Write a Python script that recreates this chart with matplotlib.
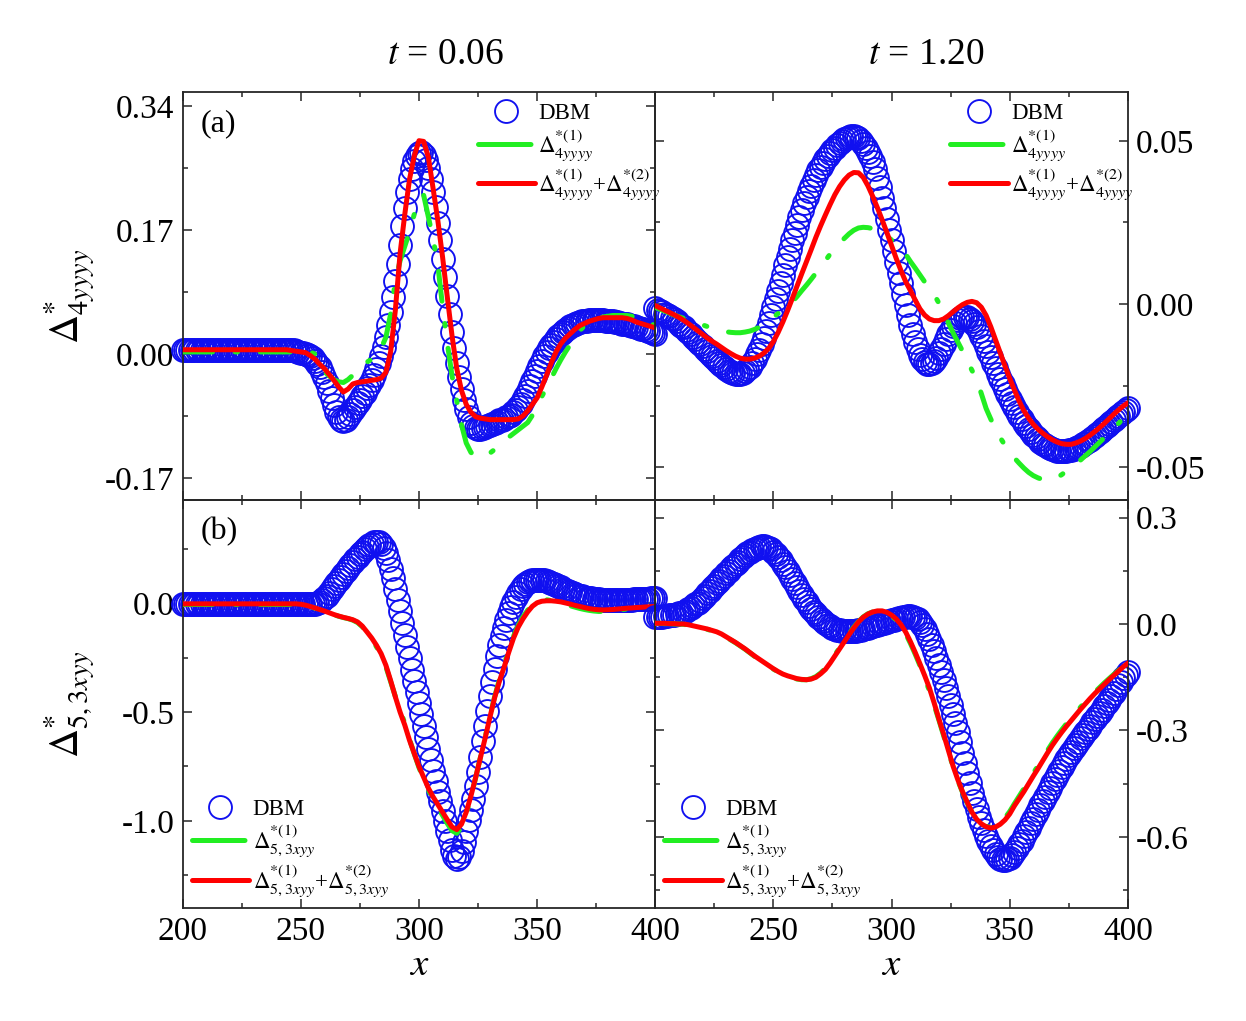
import numpy as np
import matplotlib
matplotlib.use('Agg')
from matplotlib import pyplot as plt
from matplotlib.lines import Line2D
from matplotlib.ticker import MultipleLocator, FormatStrFormatter

plt.rcParams['font.family'] = ['Liberation Serif', 'DejaVu Serif']
plt.rcParams['mathtext.fontset'] = 'stix'
plt.rcParams['axes.unicode_minus'] = False

x_dbm = np.arange(200, 401)       # DBM points, one per grid cell
x_line = np.arange(200, 401, 2)   # theory curves

# ---- top left: Delta*_4yyyy, t = 0.06
tl_dbm = [
    .006, .006, .006, .006, .006, .006, .006, .006, .006, .006,
    .006, .006, .006, .006, .006, .006, .006, .006, .006, .006,
    .006, .006, .006, .006, .006, .006, .006, .006, .006, .006,
    .006, .006, .006, .006, .006, .006, .006, .006, .006, .006,
    .006, .006, .006, .006, .006, .006, .005, .005, .004, .003,
    .002, .001, .000, -.001, -.003, -.006, -.009, -.013, -.018, -.025,
    -.032, -.040, -.050, -.060, -.070, -.080, -.087, -.091, -.092, -.090,
    -.086, -.082, -.077, -.072, -.067, -.063, -.058, -.053, -.047, -.042,
    -.036, -.029, -.021, -.012, -.002, .010, .024, .040, .058, .078,
    .100, .124, .150, .176, .200, .222, .240, .254, .265, .272,
    .276, .277, .274, .267, .256, .241, .223, .202, .180, .156,
    .131, .106, .080, .055, .031, .009, -.012, -.031, -.048, -.063,
    -.076, -.086, -.094, -.099, -.102, -.103, -.103, -.102, -.100, -.099,
    -.097, -.096, -.094, -.093, -.091, -.090, -.089, -.087, -.085, -.083,
    -.080, -.077, -.073, -.068, -.063, -.057, -.051, -.044, -.037, -.030,
    -.023, -.016, -.009, -.003, .003, .008, .013, .017, .021, .025,
    .028, .031, .033, .036, .038, .040, .041, .043, .044, .045,
    .046, .046, .047, .047, .047, .047, .047, .047, .047, .046,
    .046, .045, .045, .044, .044, .043, .042, .042, .041, .040,
    .039, .038, .037, .036, .035, .034, .033, .032, .031, .029,
    .028]
tl_first = [
    .003, .003, .003, .003, .003, .003, .003, .003, .003, .003,
    .003, .003, .003, .003, .003, .003, .003, .003, .003, .003,
    .003, .003, .003, .003, .003, .003, .003, .003, .000, -.012,
    -.024, -.030, -.035, -.038, -.039, -.035, -.029, -.021, -.015, -.011,
    -.007, -.002, .008, .023, .055, .100, .128, .148, .168, .192,
    .214, .218, .188, .158, .122, .065, .015, -.030, -.064, -.097,
    -.122, -.135, -.140, -.142, -.140, -.136, -.131, -.126, -.120, -.114,
    -.109, -.104, -.099, -.094, -.084, -.071, -.058, -.046, -.033, -.020,
    -.008, .003, .013, .023, .032, .039, .044, .047, .050, .051,
    .052, .053, .053, .053, .053, .052, .050, .048, .045, .042,
    .039]
tl_second = [
    .006, .006, .006, .006, .006, .006, .006, .006, .006, .006,
    .006, .006, .006, .006, .006, .006, .006, .006, .006, .006,
    .006, .006, .006, .005, .004, .003, .002, -.002, -.007, -.014,
    -.020, -.028, -.036, -.045, -.052, -.048, -.041, -.039, -.038, -.037,
    -.036, -.035, -.033, -.025, .003, .060, .138, .192, .240, .272,
    .293, .292, .270, .227, .183, .133, .078, .025, -.020, -.050,
    -.069, -.080, -.086, -.088, -.089, -.090, -.090, -.090, -.090, -.090,
    -.090, -.089, -.085, -.078, -.069, -.060, -.045, -.029, -.012, .003,
    .014, .022, .028, .034, .039, .042, .045, .047, .049, .050,
    .050, .050, .050, .050, .049, .047, .044, .042, .040, .038,
    .036]

# ---- top right: Delta*_4yyyy, t = 1.20
tr_dbm = [
    -.0013, -.0018, -.0022, -.0026, -.0030, -.0034, -.0038, -.0043, -.0047, -.0052,
    -.0060, -.0066, -.0072, -.0079, -.0086, -.0093, -.0100, -.0107, -.0115, -.0123,
    -.0130, -.0138, -.0145, -.0153, -.0160, -.0167, -.0174, -.0180, -.0187, -.0193,
    -.0199, -.0204, -.0208, -.0211, -.0214, -.0215, -.0214, -.0211, -.0206, -.0200,
    -.0193, -.0182, -.0169, -.0154, -.0140, -.0123, -.0104, -.0082, -.0058, -.0033,
    -.0008, .0016, .0040, .0064, .0090, .0118, .0145, .0170, .0195, .0219,
    .0242, .0266, .0288, .0309, .0328, .0346, .0363, .0380, .0395, .0410,
    .0421, .0432, .0443, .0453, .0463, .0471, .0479, .0487, .0494, .0500,
    .0505, .0509, .0512, .0514, .0515, .0513, .0508, .0500, .0490, .0479,
    .0466, .0454, .0436, .0413, .0386, .0357, .0326, .0294, .0261, .0228,
    .0195, .0162, .0129, .0096, .0063, .0030, -.0002, -.0034, -.0064, -.0092,
    -.0117, -.0138, -.0155, -.0168, -.0178, -.0183, -.0184, -.0181, -.0174, -.0164,
    -.0151, -.0137, -.0122, -.0106, -.0092, -.0079, -.0067, -.0057, -.0049, -.0044,
    -.0041, -.0040, -.0041, -.0046, -.0053, -.0062, -.0072, -.0084, -.0098, -.0113,
    -.0129, -.0146, -.0163, -.0180, -.0197, -.0214, -.0230, -.0246, -.0261, -.0276,
    -.0290, -.0304, -.0317, -.0330, -.0342, -.0353, -.0364, -.0374, -.0384, -.0393,
    -.0401, -.0408, -.0415, -.0422, -.0428, -.0433, -.0437, -.0441, -.0444, -.0447,
    -.0449, -.0450, -.0450, -.0450, -.0449, -.0448, -.0446, -.0444, -.0441, -.0438,
    -.0434, -.0430, -.0426, -.0421, -.0416, -.0410, -.0405, -.0399, -.0393, -.0387,
    -.0381, -.0375, -.0369, -.0363, -.0357, -.0350, -.0344, -.0338, -.0332, -.0326,
    -.0320]
tr_first = [
    -.0010, -.0016, -.0022, -.0028, -.0034, -.0039, -.0044, -.0049, -.0054, -.0059,
    -.0064, -.0069, -.0075, -.0079, -.0082, -.0085, -.0087, -.0088, -.0088, -.0086,
    -.0083, -.0078, -.0071, -.0060, -.0050, -.0040, -.0029, -.0018, -.0006, .0007,
    .0023, .0041, .0058, .0076, .0095, .0114, .0133, .0153, .0170, .0186,
    .0201, .0215, .0226, .0233, .0235, .0234, .0231, .0226, .0219, .0208,
    .0196, .0183, .0171, .0152, .0130, .0110, .0089, .0068, .0046, .0029,
    .0003, -.0026, -.0057, -.0088, -.0116, -.0144, -.0174, -.0203, -.0232, -.0275,
    -.0320, -.0353, -.0383, -.0410, -.0433, -.0453, -.0472, -.0488, -.0503, -.0516,
    -.0526, -.0533, -.0538, -.0540, -.0538, -.0532, -.0523, -.0512, -.0501, -.0490,
    -.0478, -.0465, -.0452, -.0438, -.0424, -.0410, -.0395, -.0380, -.0366, -.0352,
    -.0338]
tr_second = [
    -.0005, -.0012, -.0019, -.0026, -.0033, -.0041, -.0050, -.0060, -.0071, -.0082,
    -.0093, -.0104, -.0114, -.0123, -.0133, -.0143, -.0152, -.0160, -.0166, -.0169,
    -.0169, -.0166, -.0160, -.0150, -.0136, -.0115, -.0087, -.0055, -.0020, .0017,
    .0055, .0093, .0130, .0167, .0205, .0240, .0273, .0305, .0335, .0360,
    .0380, .0395, .0403, .0402, .0388, .0362, .0330, .0295, .0258, .0219,
    .0179, .0139, .0102, .0068, .0041, .0012, -.0015, -.0034, -.0046, -.0051,
    -.0051, -.0046, -.0036, -.0024, -.0012, -.0002, .0005, .0008, .0004, -.0010,
    -.0035, -.0070, -.0110, -.0150, -.0190, -.0228, -.0264, -.0298, -.0327, -.0350,
    -.0369, -.0384, -.0396, -.0407, -.0416, -.0423, -.0428, -.0430, -.0430, -.0426,
    -.0420, -.0412, -.0402, -.0391, -.0379, -.0366, -.0352, -.0338, -.0325, -.0313,
    -.0303]

# ---- bottom left: Delta*_5,3xyy, t = 0.06
bl_dbm = [
    -.005, -.005, -.005, -.005, -.005, -.005, -.005, -.005, -.005, -.005,
    -.005, -.005, -.005, -.005, -.005, -.005, -.005, -.005, -.005, -.005,
    -.005, -.005, -.005, -.005, -.005, -.005, -.005, -.005, -.005, -.005,
    -.005, -.005, -.005, -.005, -.005, -.005, -.005, -.005, -.005, -.005,
    -.005, -.005, -.005, -.005, -.005, -.005, -.005, -.005, -.005, -.005,
    -.005, -.005, -.005, -.005, -.005, -.005, -.003, .000, .005, .013,
    .023, .035, .049, .064, .079, .094, .108, .122, .136, .150,
    .163, .176, .189, .201, .213, .225, .236, .247, .257, .266,
    .274, .280, .283, .281, .272, .255, .230, .198, .159, .115,
    .067, .016, -.037, -.091, -.146, -.200, -.254, -.306, -.358, -.409,
    -.460, -.511, -.563, -.616, -.668, -.720, -.770, -.818, -.865, -.910,
    -.955, -1.000, -1.045, -1.090, -1.132, -1.163, -1.176, -1.168, -1.140, -1.098,
    -1.048, -.995, -.950, -.900, -.840, -.775, -.705, -.635, -.565, -.495,
    -.428, -.362, -.300, -.243, -.192, -.150, -.112, -.078, -.046, -.018,
    .007, .030, .049, .065, .078, .088, .096, .101, .105, .107,
    .108, .108, .107, .105, .102, .098, .094, .089, .084, .078,
    .073, .067, .062, .057, .052, .047, .043, .039, .035, .032,
    .029, .026, .024, .022, .020, .018, .017, .016, .015, .014,
    .013, .013, .013, .013, .013, .013, .014, .014, .015, .015,
    .016, .017, .017, .018, .019, .020, .021, .021, .022, .022,
    .023]
bl_first = [
    -.006, -.006, -.006, -.006, -.006, -.006, -.006, -.006, -.006, -.006,
    -.006, -.006, -.006, -.006, -.006, -.006, -.006, -.006, -.006, -.006,
    -.006, -.006, -.006, -.006, -.006, -.008, -.011, -.016, -.023, -.030,
    -.037, -.045, -.053, -.060, -.066, -.071, -.078, -.089, -.108, -.136,
    -.166, -.200, -.240, -.292, -.360, -.428, -.490, -.552, -.625, -.692,
    -.755, -.808, -.860, -.900, -.938, -.975, -1.012, -1.045, -1.057, -1.030,
    -.970, -.890, -.802, -.708, -.615, -.520, -.430, -.352, -.285, -.215,
    -.152, -.102, -.063, -.032, -.008, .008, .016, .016, .012, .006,
    .000, -.006, -.012, -.018, -.024, -.029, -.033, -.036, -.038, -.038,
    -.037, -.035, -.032, -.029, -.027, -.025, -.023, -.021, -.020, -.019,
    -.018]
bl_second = [
    -.003, -.003, -.003, -.003, -.003, -.003, -.003, -.003, -.003, -.003,
    -.003, -.003, -.003, -.003, -.003, -.003, -.003, -.003, -.003, -.003,
    -.003, -.003, -.003, -.003, -.003, -.005, -.009, -.015, -.022, -.029,
    -.036, -.044, -.052, -.059, -.065, -.070, -.076, -.086, -.105, -.132,
    -.160, -.193, -.232, -.285, -.355, -.430, -.500, -.560, -.630, -.690,
    -.750, -.800, -.850, -.890, -.925, -.960, -.995, -1.028, -1.040, -1.015,
    -.960, -.885, -.800, -.710, -.620, -.525, -.435, -.360, -.295, -.225,
    -.161, -.110, -.072, -.040, -.014, .002, .009, .011, .011, .009,
    .006, .001, -.004, -.010, -.015, -.020, -.025, -.028, -.030, -.031,
    -.030, -.029, -.027, -.025, -.023, -.022, -.020, -.019, -.017, -.016,
    -.015]

# ---- bottom right: Delta*_5,3xyy, t = 1.20
br_dbm = [
    .020, .020, .021, .021, .022, .023, .024, .025, .026, .028,
    .030, .032, .035, .038, .042, .046, .050, .055, .060, .066,
    .073, .080, .087, .094, .101, .108, .115, .122, .129, .136,
    .143, .150, .157, .164, .170, .176, .182, .188, .194, .199,
    .204, .208, .212, .215, .217, .219, .219, .218, .215, .210,
    .204, .197, .189, .180, .170, .160, .149, .138, .127, .116,
    .104, .093, .082, .071, .061, .051, .042, .034, .027, .020,
    .014, .008, .003, -.002, -.006, -.010, -.013, -.016, -.018, -.019,
    -.020, -.021, -.021, -.021, -.020, -.019, -.018, -.016, -.014, -.012,
    -.010, -.008, -.006, -.004, -.002, .000, .002, .004, .006, .008,
    .010, .012, .014, .016, .018, .020, .021, .022, .022, .021,
    .018, .013, .006, -.003, -.014, -.027, -.042, -.058, -.076, -.095,
    -.115, -.136, -.158, -.181, -.204, -.228, -.253, -.278, -.303, -.333,
    -.362, -.391, -.420, -.448, -.475, -.500, -.522, -.543, -.562, -.580,
    -.596, -.611, -.624, -.636, -.647, -.656, -.662, -.665, -.665, -.663,
    -.658, -.651, -.642, -.632, -.621, -.610, -.598, -.586, -.574, -.561,
    -.548, -.536, -.523, -.511, -.498, -.486, -.473, -.461, -.449, -.437,
    -.425, -.413, -.402, -.391, -.380, -.370, -.360, -.350, -.341, -.331,
    -.322, -.313, -.304, -.295, -.286, -.277, -.268, -.259, -.250, -.241,
    -.232, -.222, -.213, -.203, -.193, -.183, -.173, -.163, -.153, -.143,
    -.135]
br_first = [
    .002, .002, .001, .001, .000, .000, -.001, -.003, -.006, -.009,
    -.012, -.015, -.019, -.024, -.030, -.037, -.045, -.053, -.062, -.071,
    -.081, -.091, -.100, -.109, -.118, -.127, -.135, -.142, -.147, -.151,
    -.155, -.157, -.157, -.154, -.148, -.138, -.125, -.107, -.087, -.067,
    -.047, -.028, -.009, .007, .020, .029, .034, .036, .035, .031,
    .023, .011, -.006, -.028, -.055, -.085, -.117, -.152, -.188, -.228,
    -.270, -.314, -.358, -.402, -.440, -.474, -.504, -.530, -.550, -.562,
    -.570, -.573, -.569, -.560, -.546, -.528, -.506, -.485, -.464, -.442,
    -.420, -.399, -.377, -.356, -.335, -.316, -.298, -.281, -.265, -.249,
    -.234, -.219, -.205, -.192, -.179, -.166, -.154, -.142, -.131, -.120,
    -.109]
br_second = [
    .002, .002, .002, .001, .001, .000, .000, -.002, -.005, -.008,
    -.011, -.014, -.018, -.022, -.028, -.036, -.044, -.052, -.061, -.070,
    -.080, -.090, -.099, -.108, -.117, -.126, -.134, -.141, -.146, -.150,
    -.154, -.156, -.157, -.155, -.150, -.140, -.128, -.110, -.090, -.070,
    -.050, -.030, -.011, .006, .019, .028, .034, .037, .037, .033,
    .025, .014, -.002, -.023, -.050, -.080, -.112, -.145, -.180, -.222,
    -.267, -.310, -.355, -.400, -.438, -.472, -.502, -.530, -.550, -.563,
    -.571, -.575, -.572, -.564, -.552, -.535, -.512, -.492, -.472, -.450,
    -.428, -.407, -.385, -.363, -.342, -.323, -.305, -.288, -.272, -.256,
    -.240, -.225, -.210, -.196, -.183, -.170, -.157, -.145, -.133, -.121,
    -.110]

titles = [r'$t$ = 0.06', r'$t$ = 1.20']
title_x = [0.555, 0.573]
ylabels = [r'$\Delta^{*}_{4yyyy}$', r'$\Delta^{*}_{5,3xyy}$']
subs = ['4yyyy', '5,3xyy']
xticks = [200, 250, 300, 350, 400]

BLUE = '#1010f0'
GREEN = '#22ee22'
RED = '#ff0000'
SPINE = '#262626'

fig = plt.figure(figsize=(12.46, 10.21), dpi=100)
W = 0.3793
axes = [[fig.add_axes([0.1466, 0.5105, W, 0.3995]), fig.add_axes([0.5259, 0.5105, W, 0.3995])],
        [fig.add_axes([0.1466, 0.1107, W, 0.3998]), fig.add_axes([0.5259, 0.1107, W, 0.3998])]]

data = [[(tl_dbm, tl_first, tl_second), (tr_dbm, tr_first, tr_second)],
        [(bl_dbm, bl_first, bl_second), (br_dbm, br_first, br_second)]]
ylims = [[(-0.2, 0.36), (-0.06, 0.065)], [(-1.4, 0.475), (-0.8, 0.35)]]
ysteps = [[0.17, 0.05], [0.5, 0.3]]
yfmt = [['%.2f', '%.2f'], ['%.1f', '%.1f']]

for r in range(2):
    for c in range(2):
        ax = axes[r][c]
        ax.patch.set_visible(False)   # let marks spill over the shared edge
        dbm, first, second = data[r][c]
        s = subs[r]
        ax.plot(x_dbm, dbm, 'o', ms=16.5, mfc='none', mec=BLUE, mew=1.35,
                clip_on=False, zorder=2)
        ax.plot(x_line, first, color=GREEN, lw=3.6, dashes=(6, 4.5, 0.5, 4.5),
                dash_capstyle='round', solid_capstyle='round', zorder=3)
        ax.plot(x_line, second, color=RED, lw=3.6, solid_capstyle='round', zorder=4)

        ax.set_xlim(200, 400)
        ax.set_ylim(*ylims[r][c])
        ax.set_xticks(xticks)
        ax.xaxis.set_minor_locator(MultipleLocator(25))
        ax.yaxis.set_major_locator(MultipleLocator(ysteps[r][c]))
        ax.yaxis.set_minor_locator(MultipleLocator(ysteps[r][c] / 2))
        ax.yaxis.set_major_formatter(FormatStrFormatter(yfmt[r][c]))
        ax.tick_params(which='both', direction='in', top=True, bottom=True,
                       left=True, right=True, width=1.1, color=SPINE,
                       labelsize=24, pad=6)
        ax.tick_params(which='major', length=6.5)
        ax.tick_params(which='minor', length=3.6)
        for sp in ax.spines.values():
            sp.set_linewidth(1.3)
            sp.set_color(SPINE)

        if c == 1:
            ax.tick_params(labelleft=False, labelright=True)
        else:
            ax.set_ylabel(ylabels[r], fontsize=29)
            ax.yaxis.set_label_coords(-0.18, 0.5)
        if r == 0:
            ax.tick_params(labelbottom=False)
            ax.set_title(titles[c], fontsize=27, pad=20, x=title_x[c])
        else:
            ax.set_xlabel(r'$x$', fontsize=28, labelpad=0)
            if c == 1:
                ax.set_xticklabels([''] + [str(v) for v in xticks[1:]])
            else:
                ax.set_xticklabels([str(v) for v in xticks])

        # legend proxies: green entry shows a single dash, as in the figure
        h_dbm = Line2D([], [], ls='none', marker='o', ms=16.5, mfc='none',
                       mec=BLUE, mew=1.35)
        h_first = Line2D([], [], color=GREEN, lw=3.6, dashes=(10.5, 20),
                         dash_capstyle='round')
        h_second = Line2D([], [], color=RED, lw=3.6, solid_capstyle='round')
        labels = ['DBM', r'$\Delta^{*(1)}_{%s}$' % s,
                  r'$\Delta^{*(1)}_{%s}$+$\Delta^{*(2)}_{%s}$' % (s, s)]
        if r == 0:
            leg = ax.legend([h_dbm, h_first, h_second], labels, loc='upper left',
                            bbox_to_anchor=(0.6, 1.0), frameon=False, fontsize=16.5,
                            handlelength=2.5, handletextpad=0.15, labelspacing=0.12,
                            borderpad=0.5, borderaxespad=0)
        else:
            leg = ax.legend([h_dbm, h_first, h_second], labels, loc='lower left',
                            bbox_to_anchor=(0.0, 0.0), frameon=False, fontsize=16.5,
                            handlelength=2.5, handletextpad=0.15, labelspacing=0.12,
                            borderpad=0.4, borderaxespad=0)
        leg.set_zorder(10)

axes[0][0].text(0.037, 0.921, '(a)', transform=axes[0][0].transAxes,
                fontsize=23, ha='left', va='center')
axes[1][0].text(0.037, 0.921, '(b)', transform=axes[1][0].transAxes,
                fontsize=23, ha='left', va='center')

fig.savefig('out.png', dpi=100, facecolor='white')
